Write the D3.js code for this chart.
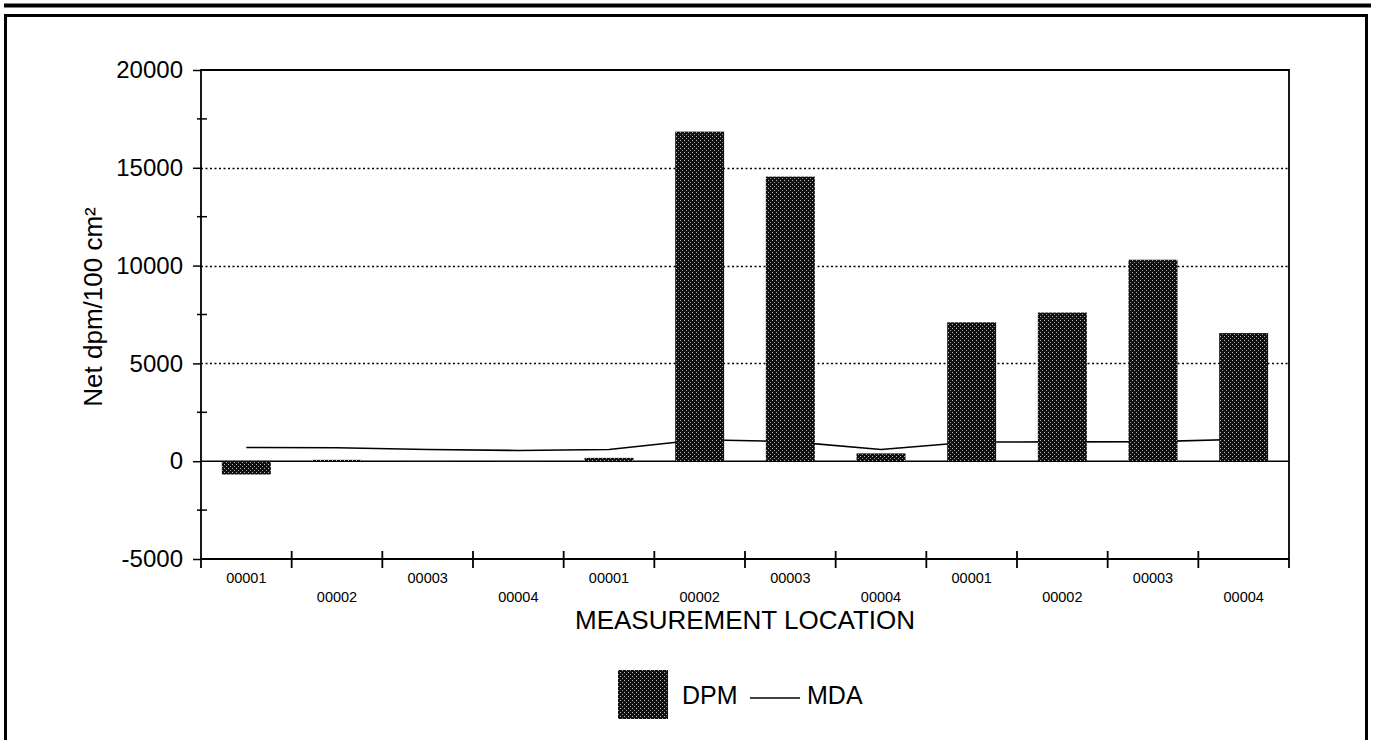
<!DOCTYPE html>
<html>
<head>
<meta charset="utf-8">
<script src="https://cdn.jsdelivr.net/npm/d3@7"></script>
<style>
  html, body { margin: 0; padding: 0; background: #fff; }
  svg { display: block; font-family: "Liberation Sans", Arial, sans-serif; }
</style>
</head>
<body>
<svg id="chart" width="1375" height="740"></svg>
<script>
// Measurement locations (three groups of four locations each)
const locations = ["00001", "00002", "00003", "00004",
                   "00001", "00002", "00003", "00004",
                   "00001", "00002", "00003", "00004"];
// Net activity per location (dpm/100 cm²)
const dpm = [-680, 70, -20, -20, 170, 16850, 14550, 400, 7100, 7600, 10300, 6550];
// Minimum detectable activity per location
const mda = [700, 685, 600, 550, 600, 1100, 1000, 600, 980, 990, 1000, 1120];
// Y axis ticks
const yMajorTicks = [-5000, 0, 5000, 10000, 15000, 20000];
const yMinorTicks = [-2500, 2500, 7500, 12500, 17500];
const yGridTicks = [5000, 10000, 15000];

const svg = d3.select("#chart");
const plot = { left: 201, right: 1289, top: 70, bottom: 559 };

// Outer page frame
svg.append("line").attr("x1", 4).attr("x2", 1371).attr("y1", 5.5).attr("y2", 5.5)
  .attr("stroke", "#000").attr("stroke-width", 4);
svg.append("path")
  .attr("d", "M5.5,740 V15.5 H1366.5 V740")
  .attr("fill", "none").attr("stroke", "#000").attr("stroke-width", 3);

// Dithered bar fill
const defs = svg.append("defs");
const pat = defs.append("pattern").attr("id", "dots")
  .attr("patternUnits", "userSpaceOnUse").attr("width", 4).attr("height", 4);
pat.append("rect").attr("width", 4).attr("height", 4).attr("fill", "#111");
pat.append("rect").attr("x", 0).attr("y", 0).attr("width", 1).attr("height", 1).attr("fill", "#bbb");
pat.append("rect").attr("x", 2).attr("y", 2).attr("width", 1).attr("height", 1).attr("fill", "#999");

const x = d3.scaleBand()
  .domain(d3.range(locations.length))
  .range([plot.left, plot.right])
  .paddingInner(0.46).paddingOuter(0.23);
const y = d3.scaleLinear().domain([-5000, 20000]).range([plot.bottom, plot.top]);
const step = x.step();

// Dotted grid lines
svg.append("g").selectAll("line").data(yGridTicks).join("line")
  .attr("x1", plot.left).attr("x2", plot.right)
  .attr("y1", d => Math.round(y(d)) + 0.5).attr("y2", d => Math.round(y(d)) + 0.5)
  .attr("stroke", "#000").attr("stroke-width", 1.3).attr("stroke-dasharray", "2,2.5");

// Zero line
svg.append("line").attr("x1", plot.left).attr("x2", plot.right)
  .attr("y1", y(0)).attr("y2", y(0)).attr("stroke", "#000").attr("stroke-width", 1.6);

// MDA line
const line = d3.line().x((d, i) => x(i) + x.bandwidth() / 2).y(d => y(d));
svg.append("path").datum(mda).attr("d", line)
  .attr("fill", "none").attr("stroke", "#000").attr("stroke-width", 1.6);

// DPM bars
svg.append("g").selectAll("rect").data(dpm).join("rect")
  .attr("x", (d, i) => x(i))
  .attr("width", x.bandwidth())
  .attr("y", d => y(Math.max(0, d)))
  .attr("height", d => Math.abs(y(d) - y(0)))
  .attr("fill", "url(#dots)");

// Plot frame: left axis, top, right border, bottom axis
svg.append("path")
  .attr("d", `M${plot.left},${plot.bottom + 9} V${plot.top} H${plot.right} V${plot.bottom + 9}`)
  .attr("fill", "none").attr("stroke", "#000").attr("stroke-width", 1.8);
svg.append("line").attr("x1", plot.left).attr("x2", plot.right)
  .attr("y1", plot.bottom).attr("y2", plot.bottom)
  .attr("stroke", "#000").attr("stroke-width", 1.8);

// Y axis
const yAxis = d3.axisLeft(y).tickValues(yMajorTicks).tickSize(8).tickPadding(10)
  .tickFormat(d => d < 0 ? "-" + Math.abs(d) : String(d));
const gy = svg.append("g").attr("transform", `translate(${plot.left},0)`).call(yAxis);
gy.select(".domain").remove();
gy.selectAll(".tick line").attr("stroke-width", 1.5);
gy.selectAll(".tick text").attr("font-size", 24).attr("fill", "#000")
  .attr("font-family", "'Liberation Sans', Arial, sans-serif");
svg.append("g").selectAll("line").data(yMinorTicks).join("line")
  .attr("x1", plot.left - 4).attr("x2", plot.left + 6)
  .attr("y1", d => y(d)).attr("y2", d => y(d))
  .attr("stroke", "#000").attr("stroke-width", 1.5);

// X axis category separators
svg.append("g").selectAll("line").data(d3.range(1, locations.length)).join("line")
  .attr("x1", i => plot.left + i * step).attr("x2", i => plot.left + i * step)
  .attr("y1", plot.bottom - 8).attr("y2", plot.bottom + 9)
  .attr("stroke", "#000").attr("stroke-width", 1.8);

// X tick labels, staggered on two rows
svg.append("g").selectAll("text").data(locations).join("text")
  .attr("x", (d, i) => x(i) + x.bandwidth() / 2)
  .attr("y", (d, i) => i % 2 === 0 ? 583 : 602)
  .attr("text-anchor", "middle").attr("font-size", 14.5)
  .text(d => d);

// Axis titles
svg.append("text").attr("x", 745).attr("y", 629).attr("text-anchor", "middle")
  .attr("font-size", 26).text("MEASUREMENT LOCATION");
svg.append("text")
  .attr("transform", "translate(102,307) rotate(-90)")
  .attr("text-anchor", "middle").attr("font-size", 26)
  .text("Net dpm/100 cm²");

// Legend
const lg = svg.append("g");
lg.append("rect").attr("x", 618).attr("y", 670).attr("width", 50).attr("height", 49)
  .attr("fill", "url(#dots)");
lg.append("text").attr("x", 682).attr("y", 704).attr("font-size", 25).text("DPM");
lg.append("line").attr("x1", 750).attr("x2", 800).attr("y1", 698).attr("y2", 698)
  .attr("stroke", "#000").attr("stroke-width", 1.5);
lg.append("text").attr("x", 807).attr("y", 704).attr("font-size", 25).text("MDA");
</script>
</body>
</html>
